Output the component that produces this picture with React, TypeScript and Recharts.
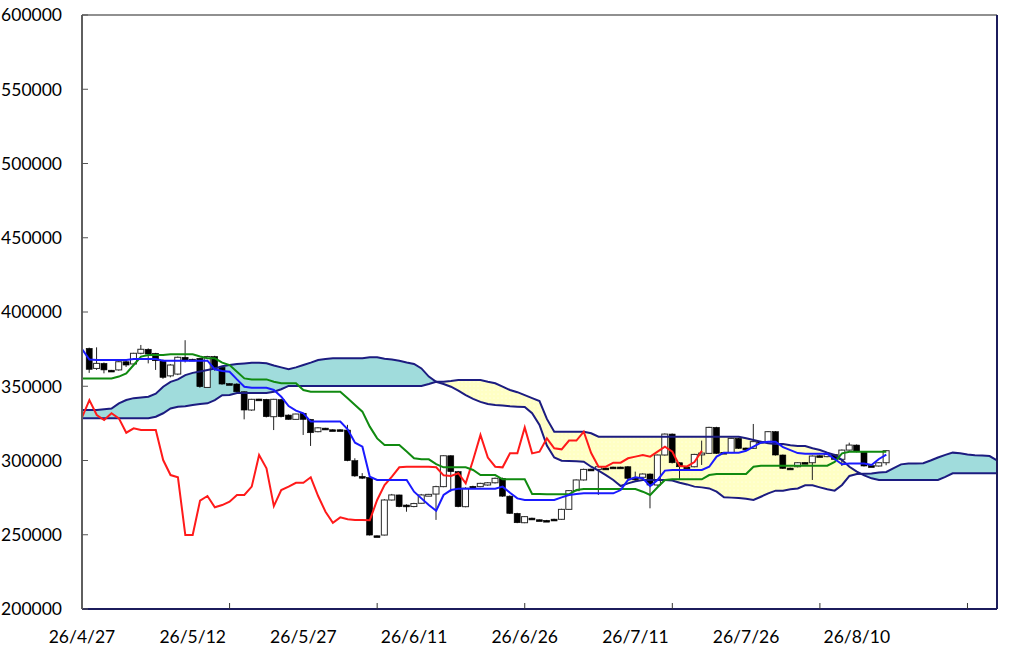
import React from 'react';
import { ComposedChart, XAxis, YAxis, Line, Area, Bar, ReferenceLine } from 'recharts';

// ---- category axis (trading-day slots, 0..124) ----
const SLOT_COUNT = 125;
const LABEL_SLOTS = [0, 15, 30, 45, 60, 75, 90, 105];
const LABEL_TEXTS = ['26/4/27', '26/5/12', '26/5/27', '26/6/11', '26/6/26', '26/7/11', '26/7/26', '26/8/10'];
const MARK_SLOTS = [20, 40, 60, 80, 100, 120];
const Y_TICKS = [200000, 250000, 300000, 350000, 400000, 450000, 500000, 550000, 600000];
const X_MAX = 124;
const Y_MIN = 200000;
const Y_MAX = 600000;

// ---- candles: first candle is slot 1 ----
const CANDLE_FIRST = 1;
const OPEN = [
  375500, 362000, 365400, 360800, 361000, 366500, 365000, 372200, 374900, 372200,
  367200, 357000, 358200, 369500, 368200, 368800, 349200, 370000, 362700, 351800,
  351500, 346300, 334000, 341400, 341200, 329500, 341000, 330600, 327700, 331800,
  327700, 319400, 321800, 320700, 320700, 320500, 299900, 289300, 288600, 249300,
  249800, 273400, 276800, 270000, 269000, 271200, 276400, 277400, 282400, 303200,
  292500, 268900, 282600, 282400, 283500, 285000, 288000, 276000, 264400, 258100,
  261200, 260100, 259700, 260500, 260400, 267100, 279700, 286900, 294200, 294000,
  294900, 295600, 295600, 295800, 288200, 288700, 290900, 283500, 303700, 317800,
  298500, 295600, 295800, 304600, 304800, 322300, 305500, 305300, 314900, 308400,
  308200, 312900, 312700, 319400, 303700, 294900, 295800, 298700, 298500, 303200,
  302600, 304000, 300800, 307000, 310400, 305900, 296500, 296300, 298500,
];
const CLOSE = [
  361400, 365400, 361000, 360300, 366500, 364300, 372200, 374900, 371700, 367200,
  356000, 364300, 369500, 367500, 367800, 349700, 370000, 362700, 351500, 351300,
  346300, 334000, 341200, 341000, 329500, 341200, 329500, 327700, 331300, 327700,
  318700, 322000, 321400, 320300, 320300, 299900, 289600, 288900, 249800, 249000,
  273400, 276800, 268900, 268900, 271000, 276800, 277200, 282400, 303200, 292500,
  268900, 281300, 282200, 284600, 285000, 288000, 276000, 264400, 258100, 262200,
  260800, 259700, 259300, 260100, 267100, 279700, 286900, 294000, 293800, 295800,
  294500, 295200, 295200, 288000, 287800, 290900, 283500, 303700, 317800, 298500,
  295800, 295200, 304100, 305000, 322300, 304800, 305100, 314900, 308200, 308000,
  312700, 312500, 319400, 303700, 294700, 294500, 298500, 298300, 303000, 302800,
  304000, 300800, 307000, 310400, 305900, 296300, 296100, 298500, 306600,
];
const HIGH = [
  376000, 376200, 366000, 361000, 367000, 367500, 372500, 377800, 375500, 372500,
  368000, 365000, 370000, 381000, 368500, 369000, 370500, 370500, 363000, 352000,
  352000, 346500, 341500, 341500, 341500, 341500, 341500, 331000, 331500, 332000,
  328000, 322500, 322000, 321000, 321000, 324000, 301500, 291500, 289000, 249500,
  274000, 277500, 277000, 270500, 271500, 277500, 277500, 283000, 303500, 303500,
  293000, 282000, 283000, 285000, 285500, 288500, 288500, 276500, 264800, 262500,
  261500, 260300, 260000, 260800, 267500, 280000, 287300, 294500, 294500, 296300,
  295200, 295800, 295800, 296200, 292500, 291300, 291300, 304000, 318200, 318200,
  298800, 295800, 304500, 313400, 322700, 322700, 305800, 315300, 315300, 308700,
  324600, 313200, 319800, 319800, 304000, 295200, 298800, 299000, 303400, 303500,
  304400, 304400, 307400, 312000, 310800, 306300, 296800, 298900, 307000,
];
const LOW = [
  359000, 361000, 358700, 360000, 360500, 363000, 364500, 371500, 365400, 361000,
  355000, 356000, 357500, 366000, 367500, 349000, 349000, 360500, 351000, 351000,
  346000, 327700, 333500, 340800, 329000, 320500, 329000, 327500, 327500, 317200,
  309800, 319000, 321000, 320000, 320000, 299500, 289000, 287500, 249500, 248800,
  249500, 273000, 268500, 265500, 268500, 271000, 276000, 260000, 282000, 279000,
  268500, 268500, 282000, 282000, 283000, 284500, 275500, 264000, 257800, 257800,
  260500, 259500, 259000, 259800, 260000, 266800, 279300, 286500, 293500, 276800,
  294200, 295000, 295000, 287500, 285800, 288300, 267800, 283000, 303300, 298000,
  286900, 295000, 295400, 297000, 304400, 304400, 304800, 305000, 307800, 307700,
  307800, 312200, 312300, 303300, 294300, 294200, 295400, 298000, 286900, 302500,
  302200, 300400, 296300, 306600, 305500, 295900, 295800, 295900, 296800,
];

// ---- ichimoku lines, from slot 0 ----
const TENKAN = [
  375000, 368000, 367700, 367700, 367700, 367700, 367700, 368400, 368400, 368400,
  368400, 367200, 367200, 367200, 367200, 367200, 367200, 367200, 361400, 360300,
  359800, 354600, 349700, 349000, 349000, 349000, 347500, 343000, 336700, 333600,
  331800, 326200, 326200, 326200, 326200, 326200, 321000, 312000, 309300, 289100,
  286900, 286900, 286900, 286900, 286900, 279000, 274500, 270000, 266200, 276800,
  280100, 281000, 281000, 281000, 281000, 281000, 281000, 282400, 278300, 274500,
  273400, 273400, 273400, 273400, 273400, 275200, 276800, 277400, 277900, 277900,
  277900, 277900, 277900, 280100, 286900, 288700, 288000, 282800, 286900, 293200,
  293600, 293600, 293600, 293600, 293600, 295800, 302600, 305300, 305300, 305300,
  306600, 309300, 312000, 312700, 312700, 309000, 307000, 305000, 304500, 304500,
  304500, 304500, 301000, 297500, 298000, 298000, 298000, 297000, 301000, 304000,
];
const KIJUN = [
  355300, 355300, 355300, 355300, 355300, 356500, 358700, 364300, 370000, 371000,
  371000, 371000, 371500, 371500, 371500, 371500, 370000, 368800, 368800, 365900,
  364300, 359800, 355300, 354600, 354600, 354600, 353000, 352000, 352000, 352000,
  347500, 346300, 346300, 346300, 346300, 346300, 341900, 337400, 332900, 322800,
  314900, 310400, 310400, 310400, 306000, 301500, 300800, 300800, 297600, 295400,
  295400, 295400, 295400, 293600, 290200, 290200, 290200, 287300, 287300, 287300,
  287300, 277400, 277400, 277200, 277200, 277200, 277200, 280100, 280800, 280800,
  280800, 280800, 280800, 280800, 280800, 280800, 279000, 276800, 282000, 286900,
  287300, 287300, 287300, 287300, 287300, 290200, 290900, 290900, 290900, 290900,
  290900, 295800, 296500, 296500, 296500, 296500, 296500, 296500, 296500, 296500,
  296500, 296500, 299000, 304800, 305900, 305900, 305900, 305900, 305900, 305900,
];
const CHIKOU = [
  329000, 340700, 330600, 327300, 331800, 328400, 318700, 321700, 320500, 320500,
  320500, 300300, 290200, 288700, 249800, 249800, 273000, 276100, 268500, 270000,
  272300, 276800, 276800, 282400, 303700, 294700, 269300, 280100, 282400, 285000,
  285000, 288700, 276100, 265500, 258100, 261700, 260400, 259900, 259900, 259700,
  273400, 283500, 289100, 295400, 295800, 295800, 295800, 295800, 295400, 290000,
  289600, 291400, 284600, 300300, 317200, 302000, 295800, 295400, 304800, 304800,
  322300, 304800, 305900, 314900, 308200, 307500, 313400, 313400, 319400, 305000,
  295800, 295800, 298500, 298500, 301500, 302600, 303700, 302600, 306000, 309300,
  305900, 296300, 296000, 299000, 306600,
];
const SPAN_A = [
  334000, 334000, 334000, 334500, 335000, 338500, 340700, 342000, 342500, 343000,
  345000, 349700, 353000, 354600, 357500, 359000, 360000, 361000, 362000, 363500,
  364300, 365000, 365400, 365900, 365900, 365500, 364000, 362700, 361400, 362700,
  364300, 365900, 367700, 368400, 368800, 368800, 368800, 368800, 368800, 369500,
  369500, 368500, 368000, 367200, 366000, 365000, 362000, 356500, 353000, 351500,
  349700, 347000, 344000, 341500, 339500, 338000, 337400, 337000, 336500, 336200,
  336000, 331800, 324000, 310000, 302000, 299900, 299700, 299500, 299200, 295800,
  293100, 290200, 286900, 282800, 284600, 286000, 286900, 286900, 286900, 286900,
  286500, 285000, 283900, 282400, 281900, 281200, 279000, 275200, 275000, 274800,
  274300, 273400, 275600, 277900, 279700, 279700, 280600, 281200, 283300, 283300,
  281900, 280600, 279700, 283500, 289600, 290900, 291000, 291200, 291900, 292300,
  294800, 297400, 298000, 298000, 298200, 300000, 302000, 303800, 305300, 304900,
  304000, 303500, 303300, 303000, 300000,
];
const SPAN_B = [
  328400, 328400, 328400, 328400, 328400, 328400, 328400, 328400, 328400, 328400,
  329500, 331800, 335000, 336200, 336500, 337400, 338000, 338500, 340700, 344000,
  344100, 345500, 345500, 345500, 345500, 345500, 346300, 348000, 350200, 350200,
  350200, 350200, 350200, 350200, 350200, 350200, 350200, 350200, 350200, 350200,
  350200, 350200, 350200, 350200, 350200, 350200, 350200, 351500, 353000, 353000,
  353500, 354200, 354200, 354200, 354200, 353000, 352000, 349700, 347500, 346000,
  344000, 342000, 340000, 328000, 319400, 319400, 319400, 319400, 319400, 318300,
  316000, 316000, 316000, 316000, 316000, 316000, 316000, 316000, 316000, 316000,
  316000, 316000, 316000, 316000, 316000, 316000, 316000, 316000, 316000, 316000,
  315000, 313800, 312700, 311600, 311100, 311100, 310200, 309800, 309800, 308200,
  307100, 305300, 303700, 300300, 295800, 292500, 290000, 288000, 286900, 286900,
  286900, 286900, 286900, 286900, 286900, 286900, 286900, 289000, 291400, 291400,
  291400, 291400, 291400, 291400, 291400,
];

type Row = {
  i: number;
  open: number | null; high: number | null; low: number | null; close: number | null;
  tenkan: number | null; kijun: number | null; chikou: number | null;
  spanA: number; spanB: number;
};

const rows: Row[] = Array.from({ length: SLOT_COUNT }, (_, i) => {
  const c = i - CANDLE_FIRST;
  const has = c >= 0 && c < OPEN.length;
  return {
    i,
    open: has ? OPEN[c] : null,
    high: has ? HIGH[c] : null,
    low: has ? LOW[c] : null,
    close: has ? CLOSE[c] : null,
    tenkan: i < TENKAN.length ? TENKAN[i] : null,
    kijun: i < KIJUN.length ? KIJUN[i] : null,
    chikou: i < CHIKOU.length ? CHIKOU[i] : null,
    spanA: SPAN_A[i],
    spanB: SPAN_B[i],
  };
});

const FONT = 'Lato, "Open Sans", sans-serif';

const Candle = (props: any) => {
  const { x, y, width, height, payload } = props;
  if (!payload || payload.high == null || !Number.isFinite(y)) return null;
  const { open, close, high, low } = payload;
  const span = high - low;
  const toY = (v: number) => (span > 0 ? y + ((high - v) / span) * height : y);
  const cx = x + width / 2;
  const top = toY(Math.max(open, close));
  const bot = toY(Math.min(open, close));
  const up = close > open;
  const bodyH = Math.max(bot - top, 1.8);
  return (
    <g>
      <line x1={cx} x2={cx} y1={y} y2={y + height} stroke="#222" strokeWidth={1} />
      <rect
        x={x + 0.5}
        y={top}
        width={width - 1}
        height={bodyH}
        fill={up ? '#ffffff' : '#000000'}
        stroke={up ? '#2a2a2a' : '#000000'}
        strokeWidth={up ? 1 : 0.6}
      />
    </g>
  );
};

const XTick = (props: any) => {
  const { x, y, payload } = props;
  const v = payload.value;
  const li = LABEL_SLOTS.indexOf(v);
  const mark = MARK_SLOTS.includes(v);
  return (
    <g>
      {mark && <line x1={x} x2={x} y1={y} y2={y - 6} stroke="#333" strokeWidth={1} />}
      {li >= 0 && (
        <text x={x} y={y + 34} textAnchor="middle" fontFamily={FONT} fontSize={17.5} fill="#000">
          {LABEL_TEXTS[li]}
        </text>
      )}
    </g>
  );
};

const YTick = (props: any) => {
  const { x, y, payload } = props;
  return (
    <g>
      <line x1={x + 20} x2={x + 26} y1={y} y2={y} stroke="#555" strokeWidth={1} />
      <text x={x} y={y} dy="0.36em" textAnchor="end" fontFamily={FONT} fontSize={17.5} fill="#000">
        {String(payload.value)}
      </text>
    </g>
  );
};

const X_TICKS = Array.from(new Set([...LABEL_SLOTS, ...MARK_SLOTS])).sort((a, b) => a - b);

export default function App() {
  return (
    <div style={{ position: 'fixed', left: 0, top: 0, width: 1024, height: 647, background: '#ffffff' }}>
      <ComposedChart
        width={1024}
        height={647}
        data={rows}
        margin={{ top: 15, right: 27, bottom: 0, left: 0 }}
      >
        <defs>
          <pattern id="yellowDots" width="4" height="4" patternUnits="userSpaceOnUse">
            <rect width="4" height="4" fill="#ffffc4" />
            <circle cx="2" cy="2" r="0.55" fill="#ffffff" />
          </pattern>
        </defs>
        <XAxis
          dataKey="i"
          type="number"
          domain={[0, X_MAX]}
          ticks={X_TICKS}
          interval={0}
          tickSize={0}
          tickMargin={0}
          tickLine={false}
          tick={<XTick />}
          axisLine={{ stroke: '#1c1c5c', strokeWidth: 2 }}
          height={38}
          allowDataOverflow
        />
        <YAxis
          type="number"
          domain={[Y_MIN, Y_MAX]}
          ticks={Y_TICKS}
          interval={0}
          width={82}
          tickSize={0}
          tickMargin={20}
          tickLine={false}
          tick={<YTick />}
          axisLine={{ stroke: '#5f5f5f', strokeWidth: 2 }}
          allowDataOverflow
        />
        <Area
          dataKey={(d: Row) => [d.spanB, Math.max(d.spanA, d.spanB)]}
          stroke="none"
          fill="#a0dcdc"
          fillOpacity={1}
          isAnimationActive={false}
          dot={false}
          activeDot={false}
        />
        <Area
          dataKey={(d: Row) => [d.spanA, Math.max(d.spanA, d.spanB)]}
          stroke="none"
          fill="url(#yellowDots)"
          fillOpacity={1}
          isAnimationActive={false}
          dot={false}
          activeDot={false}
        />
        <Line dataKey="spanA" stroke="#1c1c80" strokeWidth={2} dot={false} activeDot={false} isAnimationActive={false} />
        <Line dataKey="spanB" stroke="#1c1c80" strokeWidth={2} dot={false} activeDot={false} isAnimationActive={false} />
        <Line dataKey="chikou" stroke="#ff1a1a" strokeWidth={2} dot={false} activeDot={false} isAnimationActive={false} />
        <Line dataKey="kijun" stroke="#108a10" strokeWidth={2} dot={false} activeDot={false} isAnimationActive={false} />
        <Line dataKey="tenkan" stroke="#1a1aff" strokeWidth={2} dot={false} activeDot={false} isAnimationActive={false} />
        <Bar
          dataKey={(d: Row) => (d.high == null ? null : [d.low, d.high])}
          barSize={7}
          shape={<Candle />}
          isAnimationActive={false}
        />
        <ReferenceLine y={Y_MAX} stroke="#6b6b6b" strokeWidth={1.5} ifOverflow="visible" />
        <ReferenceLine x={X_MAX} stroke="#1c1c5c" strokeWidth={2} ifOverflow="visible" />
      </ComposedChart>
    </div>
  );
}
